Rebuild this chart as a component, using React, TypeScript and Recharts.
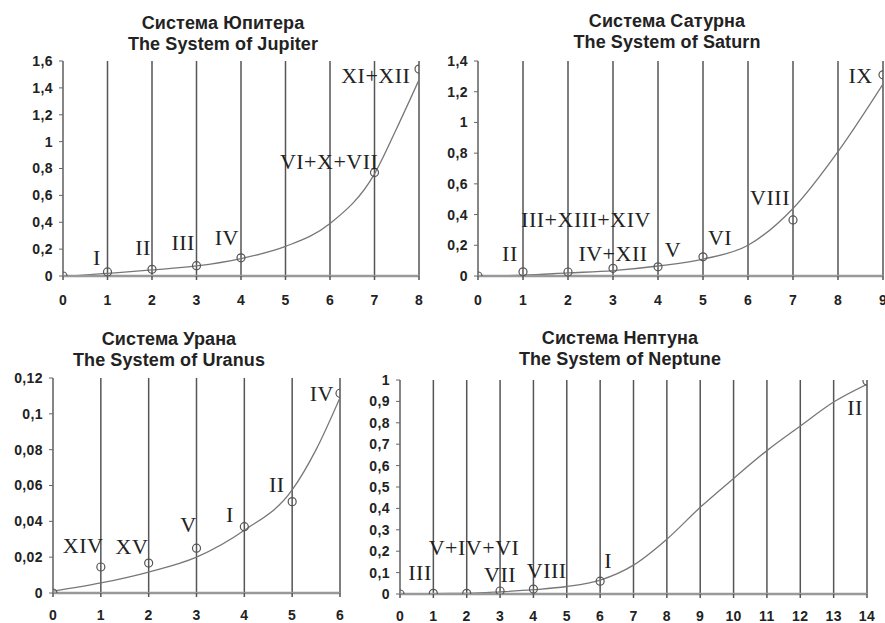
import { CartesianGrid, ComposedChart, Line, Scatter, XAxis, YAxis } from "recharts";

const W = 885;
const H = 623;

// Система Юпитера
const jupX = [0, 1, 2, 3, 4, 7, 8];
const jupY = [0, 0.03, 0.05, 0.077, 0.135, 0.77, 1.54];
const jupCurveX = [0.3, 1, 2, 3, 4, 5, 6, 7, 7.5, 8];
const jupCurveY = [0.003, 0.02, 0.045, 0.075, 0.13, 0.22, 0.39, 0.76, 1.1, 1.46];
const jupLabels = ["I", "II", "III", "IV", "VI+X+VII", "XI+XII"];
const jupLabelX = [0.76, 1.8, 2.7, 3.68, 5.98, 7.03];
const jupLabelY = [0.08, 0.156, 0.19, 0.23, 0.8, 1.44];
const jupXTicks = [0, 1, 2, 3, 4, 5, 6, 7, 8];
const jupYTicks = [0, 0.2, 0.4, 0.6, 0.8, 1, 1.2, 1.4, 1.6];

// Система Сатурна
const satX = [0, 1, 2, 3, 4, 5, 7, 9];
const satY = [0, 0.027, 0.026, 0.05, 0.06, 0.125, 0.365, 1.31];
const satCurveX = [0.5, 1, 2, 3, 4, 5, 6, 7, 8, 9];
const satCurveY = [0, 0.005, 0.02, 0.035, 0.065, 0.11, 0.2, 0.44, 0.81, 1.25];
const satLabels = ["II", "III+XIII+XIV", "IV+XII", "V", "VI", "VIII", "IX"];
const satLabelX = [0.71, 2.4, 3.0, 4.33, 5.38, 6.49, 8.5];
const satLabelY = [0.1, 0.32, 0.1, 0.125, 0.2, 0.46, 1.26];
const satXTicks = [0, 1, 2, 3, 4, 5, 6, 7, 8, 9];
const satYTicks = [0, 0.2, 0.4, 0.6, 0.8, 1, 1.2, 1.4];

// Система Урана
const uraX = [0, 1, 2, 3, 4, 5, 6];
const uraY = [0, 0.0145, 0.0167, 0.025, 0.037, 0.051, 0.1115];
const uraCurveX = [0, 1, 2, 3, 4, 5, 5.5, 6];
const uraCurveY = [0.001, 0.0056, 0.0117, 0.02, 0.035, 0.0575, 0.08, 0.109];
const uraLabels = ["XIV", "XV", "V", "I", "II", "IV"];
const uraLabelX = [0.63, 1.65, 2.83, 3.7, 4.68, 5.62];
const uraLabelY = [0.0223, 0.022, 0.034, 0.0396, 0.0564, 0.107];
const uraXTicks = [0, 1, 2, 3, 4, 5, 6];
const uraYTicks = [0, 0.02, 0.04, 0.06, 0.08, 0.1, 0.12];

// Система Нептуна
const nepX = [0, 1, 2, 3, 4, 6, 14];
const nepY = [0, 0.003, 0.003, 0.014, 0.023, 0.06, 0.995];
const nepCurveX = [0.55, 1, 2, 3, 4, 5, 6, 7, 8, 9, 10, 11, 12, 13, 14];
const nepCurveY = [0, 0.002, 0.003, 0.01, 0.02, 0.035, 0.065, 0.135, 0.256, 0.405, 0.54, 0.67, 0.785, 0.897, 0.98];
const nepLabels = ["III", "V+IV+VI", "VII", "VIII", "I", "II"];
const nepLabelX = [0.6, 2.22, 3.0, 4.4, 6.24, 13.64];
const nepLabelY = [0.065, 0.18, 0.056, 0.075, 0.12, 0.836];
const nepXTicks = [0, 1, 2, 3, 4, 5, 6, 7, 8, 9, 10, 11, 12, 13, 14];
const nepYTicks = [0, 0.1, 0.2, 0.3, 0.4, 0.5, 0.6, 0.7, 0.8, 0.9, 1];

const pts = (xs: number[], ys: number[]) => xs.map((x, i) => ({ x, y: ys[i] }));
const lbls = (names: string[], xs: number[], ys: number[]) =>
  names.map((label, i) => ({ x: xs[i], y: ys[i], label }));

const fmt = (v: number) => String(v).replace(".", ",");

const tickFont = {
  fontSize: 14,
  fontWeight: "bold",
  fill: "#222",
  fontFamily: "'Liberation Sans', Arial, sans-serif",
  letterSpacing: 0.4,
};

interface PanelProps {
  box: { l: number; r: number; t: number; b: number };
  xs: number[];
  ys: number[];
  cx: number[];
  cy: number[];
  names: string[];
  lx: number[];
  ly: number[];
  xTicks: number[];
  yTicks: number[];
  xGap?: number;
}

function Panel({ box, xs, ys, cx, cy, names, lx, ly, xTicks, yTicks, xGap = 15 }: PanelProps) {
  const yMax = yTicks[yTicks.length - 1];
  const xMax = xTicks[xTicks.length - 1];
  return (
    <div style={{ position: "absolute", left: 0, top: 0 }}>
      <ComposedChart
        width={W}
        height={H}
        margin={{ top: box.t, left: box.l - 40, right: W - box.r, bottom: H - box.b - 30 }}
      >
        <CartesianGrid horizontal={false} stroke="#555" strokeWidth={1.5} />
        <XAxis
          type="number"
          dataKey="x"
          domain={[0, xMax]}
          ticks={xTicks}
          interval={0}
          allowDataOverflow
          height={30}
          tickSize={4}
          tickMargin={xGap}
          tick={tickFont}
          tickLine={{ stroke: "#555", strokeWidth: 1.5 }}
          axisLine={{ stroke: "#999", strokeWidth: 2.5 }}
        />
        <YAxis
          type="number"
          domain={[0, yMax]}
          ticks={yTicks}
          interval={0}
          allowDataOverflow
          width={40}
          tickSize={4}
          tickMargin={6}
          tick={tickFont}
          tickFormatter={fmt}
          tickLine={{ stroke: "#666" }}
          axisLine={{ stroke: "#888", strokeWidth: 1.5 }}
        />
        <Line
          data={pts(cx, cy)}
          dataKey="y"
          type="monotone"
          stroke="#777"
          strokeWidth={1.3}
          dot={false}
          activeDot={false}
          isAnimationActive={false}
        />
        <Scatter
          data={pts(xs, ys)}
          dataKey="y"
          isAnimationActive={false}
          shape={(p: any) => (
            <circle cx={p.cx} cy={p.cy} r={4} fill="none" stroke="#555" strokeWidth={1.2} />
          )}
        />
        <Scatter
          data={lbls(names, lx, ly)}
          dataKey="y"
          isAnimationActive={false}
          shape={(p: any) => (
            <text
              x={p.cx}
              y={p.cy}
              textAnchor="middle"
              fontFamily="'Liberation Serif', 'Times New Roman', serif"
              fontSize={22}
              letterSpacing={0.5}
              fill="#222"
            >
              {p.payload.label}
            </text>
          )}
        />
      </ComposedChart>
    </div>
  );
}

function Title({ cx, top, lines }: { cx: number; top: number; lines: string[] }) {
  return (
    <div
      style={{
        position: "absolute",
        left: cx - 150,
        top,
        width: 300,
        textAlign: "center",
        fontFamily: "'Liberation Sans', Arial, sans-serif",
        fontSize: 18,
        fontWeight: "bold",
        lineHeight: "21px",
        letterSpacing: 0.1,
        color: "#222",
      }}
    >
      {lines.map((s) => (
        <div key={s}>{s}</div>
      ))}
    </div>
  );
}

export default function App() {
  return (
    <div style={{ position: "absolute", left: 0, top: 0, width: W, height: H, background: "#fff", overflow: "hidden" }}>
      <Title cx={223} top={13} lines={["Система Юпитера", "The System of Jupiter"]} />
      <Title cx={667} top={11} lines={["Система Сатурна", "The System of Saturn"]} />
      <Title cx={169} top={329} lines={["Система Урана", "The System of Uranus"]} />
      <Title cx={620} top={328} lines={["Система Нептуна", "The System of Neptune"]} />
      <Panel
        box={{ l: 63, r: 419, t: 61, b: 276 }}
        xs={jupX} ys={jupY} cx={jupCurveX} cy={jupCurveY}
        names={jupLabels} lx={jupLabelX} ly={jupLabelY}
        xTicks={jupXTicks} yTicks={jupYTicks}
      />
      <Panel
        box={{ l: 478, r: 883, t: 61, b: 276 }}
        xs={satX} ys={satY} cx={satCurveX} cy={satCurveY}
        names={satLabels} lx={satLabelX} ly={satLabelY}
        xTicks={satXTicks} yTicks={satYTicks}
      />
      <Panel
        box={{ l: 53, r: 340, t: 378, b: 593 }}
        xs={uraX} ys={uraY} cx={uraCurveX} cy={uraCurveY}
        names={uraLabels} lx={uraLabelX} ly={uraLabelY}
        xTicks={uraXTicks} yTicks={uraYTicks} xGap={13}
      />
      <Panel
        box={{ l: 400, r: 867, t: 380, b: 594 }}
        xs={nepX} ys={nepY} cx={nepCurveX} cy={nepCurveY}
        names={nepLabels} lx={nepLabelX} ly={nepLabelY}
        xTicks={nepXTicks} yTicks={nepYTicks} xGap={13}
      />
    </div>
  );
}
